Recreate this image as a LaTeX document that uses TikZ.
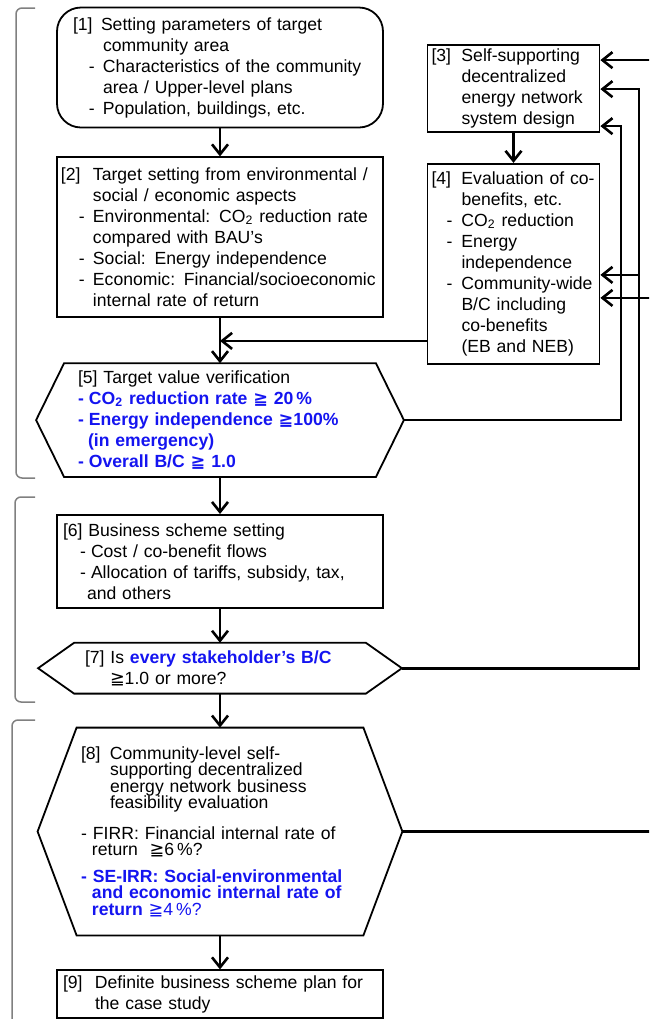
\documentclass[tikz,border=0pt]{standalone}
\usepackage{fontspec}
\setmainfont{Liberation Sans}
\newfontfamily\symfont{DejaVu Sans}
\usetikzlibrary{positioning, arrows.meta}
\usepackage{xcolor}

\definecolor{targetblue}{RGB}{20,20,240}
\definecolor{bracketgray}{RGB}{128,128,128}

\newcommand{\gq}{{\symfont ≧}}
\newcommand{\hl}[1]{\textcolor{targetblue}{\bfseries #1}}
\newcommand{\numlbl}[2]{\makebox[#1][l]{#2}}
\newcommand{\dashat}[2]{\hspace*{#1}\makebox[\dimexpr#2-#1\relax][l]{-}}
\newcommand{\hexframe}[2]{\draw[boxline] (#1.west) -- ([xshift=#2]#1.north west) -- ([xshift=-#2]#1.north east) -- (#1.east) -- ([xshift=-#2]#1.south east) -- ([xshift=#2]#1.south west) -- cycle;}

\tikzset{
  boxline/.style={line width=0.9pt},
  stepbox/.style={draw, boxline, align=left, inner xsep=1pt, inner ysep=1pt, font=\fontsize{8.8}{10.5}\selectfont},
  hexbox/.style={align=left, inner xsep=1pt, inner ysep=1pt, font=\fontsize{8.8}{10.5}\selectfont},
  flow/.style={line width=1.3pt, -{Straight Barb[length=5pt,width=8pt]}},
  bracket/.style={draw=bracketgray, line width=0.75pt, rounded corners=3pt}
}

\begin{document}
\begin{tikzpicture}[x=0.5pt, y=-0.5pt]
\path[use as bounding box, clip] (0,0) rectangle (649,1019);

% phase brackets
\draw[bracket] (35,8) -- (16,8) -- (16,478) -- (35,478);
\draw[bracket] (35,497) -- (15,497) -- (15,702) -- (35,702);
\draw[bracket] (35,720) -- (12,720) -- (12,1030);

% main column
\node (p1) [stepbox, rounded corners=12pt, minimum width=163pt, minimum height=60pt, text width=147pt] at (220,67.5) {%
  \numlbl{14pt}{[1]}Setting parameters of target\\
  \hspace*{15pt}community area\\
  \dashat{8pt}{15pt}Characteristics of the community\\
  \hspace*{15pt}area / Upper-level plans\\
  \dashat{8pt}{15pt}Population, buildings, etc.};
\node (p2) [stepbox, below=14pt of p1, minimum width=163pt, minimum height=80pt, text width=159pt] {%
  \numlbl{16pt}{[2]}Target setting from environmental /\\
  \hspace*{16pt}social / economic aspects\\
  \dashat{9pt}{16pt}Environmental: CO\textsubscript{2} reduction rate\\
  \hspace*{16pt}compared with BAU's\\
  \dashat{9pt}{16pt}Social: Energy independence\\
  \dashat{9pt}{16pt}Economic: Financial/socioeconomic\\
  \hspace*{16pt}internal rate of return};
\node (p5) [hexbox, below=22.5pt of p2, minimum width=183.5pt, minimum height=56.5pt, text width=142pt] {%
  [5] Target value verification\\
  \hl{\dashat{0pt}{5.5pt}CO\textsubscript{2} reduction rate \gq\ 20\,\%}\\
  \hl{\dashat{0pt}{5.5pt}Energy independence \gq100\%}\\
  \hl{\hspace*{5pt}(in emergency)}\\
  \hl{\dashat{0pt}{5.5pt}Overall B/C \gq\ 1.0}};
\hexframe{p5}{14pt}
\node (p6) [stepbox, below=18.5pt of p5, minimum width=163pt, minimum height=46.5pt, text width=157pt] {%
  [6] Business scheme setting\\
  \dashat{8.5pt}{14pt}Cost / co-benefit flows\\
  \dashat{8.5pt}{14pt}Allocation of tariffs, subsidy, tax,\\
  \hspace*{12pt}and others};
\node (p7) [hexbox, below=17pt of p6, minimum width=181.5pt, minimum height=25pt, text width=135pt] {%
  [7] Is \hl{every stakeholder's B/C}\\
  \hspace*{12.5pt}\gq1.0 or more?};
\hexframe{p7}{18pt}
\node (p8) [hexbox, below=17pt of p7, minimum width=182pt, minimum height=103.5pt, text width=139pt, font=\fontsize{8.8}{8.25}\selectfont] {%
  \numlbl{14.5pt}{[8]}Community-level self-\\
  \hspace*{14.5pt}supporting decentralized\\
  \hspace*{14.5pt}energy network business\\
  \hspace*{14.5pt}feasibility evaluation\\[7pt]
  \dashat{0pt}{6pt}FIRR: Financial internal rate of\\
  \hspace*{5.5pt}return\ \ \gq6\,\%?\\[5pt]
  \hl{\dashat{0pt}{6pt}SE-IRR: Social-environmental}\\
  \hl{\hspace*{5.5pt}and economic internal rate of}\\
  \hspace*{5.5pt}\hl{return} \textcolor{targetblue}{\gq4\,\%?}};
\hexframe{p8}{19.5pt}
\node (p9) [stepbox, below=17pt of p8, minimum width=163pt, minimum height=24pt, text width=157pt] {%
  \numlbl{16pt}{[9]}Definite business scheme plan for\\
  \hspace*{16pt}the case study};

% design loop
\node (p3) [stepbox, minimum width=86pt, minimum height=43.5pt, text width=82pt] at (513.5,88.5) {%
  \numlbl{15pt}{[3]}Self-supporting\\
  \hspace*{15pt}decentralized\\
  \hspace*{15pt}energy network\\
  \hspace*{15pt}system design};
\node (p4) [stepbox, below=15pt of p3, minimum width=86pt, minimum height=100pt, text width=82pt] {%
  \numlbl{15pt}{[4]}Evaluation of co-\\
  \hspace*{15pt}benefits, etc.\\
  \dashat{7.5pt}{15pt}CO\textsubscript{2} reduction\\
  \dashat{7.5pt}{15pt}Energy\\
  \hspace*{15pt}independence\\
  \dashat{7.5pt}{15pt}Community-wide\\
  \hspace*{15pt}B/C including\\
  \hspace*{15pt}co-benefits\\
  \hspace*{15pt}(EB and NEB)};

% main flow
\draw[flow] (p1.south) -- (p2.north);
\draw[flow] (p2.south) -- (p5.north);
\draw[flow] (p5.south) -- (p6.north);
\draw[flow] (p6.south) -- (p7.north);
\draw[flow] (p7.south) -- (p8.north);
\draw[flow] (p8.south) -- (p9.north);
\draw[flow] (p3.south) -- (p4.north);

% feedback lines
\coordinate (c5) at (621,0);
\coordinate (c7) at (639,0);
\coordinate (c8) at (653,0);
\coordinate (in3a) at ([yshift=-8pt]p3.north east);
\coordinate (in3b) at ([yshift=-22.5pt]p3.north east);
\coordinate (in3c) at ([yshift=-41pt]p3.north east);
\coordinate (in4a) at ([yshift=-56pt]p4.north east);
\coordinate (in4b) at ([yshift=-67.5pt]p4.north east);
\coordinate (out4) at ([yshift=-89pt]p4.north west);
\draw[flow] (out4) -- (out4 -| p2.south);
\draw[flow] (p5.east) -| (c5 |- in3c) -- (in3c);
\draw[flow] (p7.east) -| (c7 |- in3b) -- (in3b);
\draw[flow] (c7 |- in4a) -- (in4a);
\draw[flow] (p8.east) -| (c8 |- in3a) -- (in3a);
\draw[flow] (c8 |- in4b) -- (in4b);
\end{tikzpicture}
\end{document}
